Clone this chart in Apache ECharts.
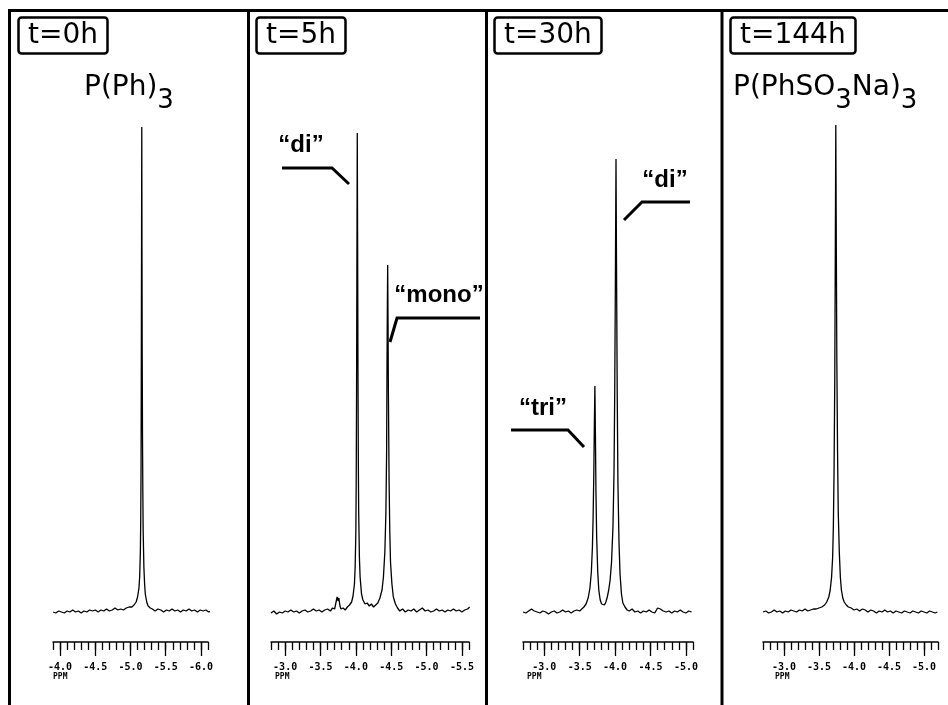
<!DOCTYPE html>
<html>
<head>
<meta charset="utf-8">
<script src="https://cdn.jsdelivr.net/npm/echarts@6/dist/echarts.min.js"></script>
<style>
  html, body { margin: 0; padding: 0; background: #fff; }
  #main { width: 948px; height: 705px; }
</style>
</head>
<body>
<div id="main"></div>
<script>
// 31P spectra, [ppm, intensity] (baseline = 0)
const spec0h = [
  [-3.90,0],[-3.94,-1],[-3.98,1],[-4.02,0],[-4.06,-1],[-4.10,1],[-4.14,0],[-4.18,2],[-4.22,0],[-4.26,1],
  [-4.30,-1],[-4.34,1],[-4.38,0],[-4.42,2],[-4.46,1],[-4.50,2],[-4.54,0],[-4.58,2],[-4.62,1],[-4.66,3],
  [-4.70,1],[-4.74,2],[-4.78,4],[-4.82,2],[-4.86,3],[-4.90,2],[-4.94,4],[-4.98,5],[-5.02,5],[-5.05,7],
  [-5.08,10],[-5.10,15],[-5.12,24],[-5.13,35],[-5.14,60],[-5.145,90],[-5.15,150],[-5.153,230],[-5.156,340],
  [-5.16,485],[-5.163,360],[-5.166,260],[-5.17,180],[-5.175,120],[-5.18,80],[-5.19,45],[-5.20,28],
  [-5.21,18],[-5.23,10],[-5.25,6],[-5.28,4],[-5.31,3],[-5.35,1],[-5.39,3],[-5.43,2],[-5.47,0],[-5.51,2],
  [-5.55,1],[-5.59,3],[-5.63,1],[-5.67,2],[-5.71,0],[-5.75,2],[-5.79,1],[-5.83,3],[-5.87,1],[-5.91,2],
  [-5.95,0],[-5.99,2],[-6.03,1],[-6.07,2],[-6.11,0],[-6.15,1],[-6.19,1]
];
const spec5h = [
  [-2.80,-1],[-2.84,1],[-2.88,-2],[-2.92,0],[-2.96,-1],[-3.00,1],[-3.04,0],[-3.08,2],[-3.12,0],[-3.16,1],
  [-3.20,-1],[-3.24,1],[-3.28,2],[-3.32,0],[-3.36,1],[-3.40,3],[-3.44,1],[-3.48,2],[-3.52,0],[-3.56,2],
  [-3.60,3],[-3.64,1],[-3.67,4],[-3.70,3],[-3.72,10],[-3.735,15],[-3.75,11],[-3.76,14],[-3.775,6],
  [-3.79,3],[-3.82,4],[-3.85,2],[-3.88,5],[-3.91,7],[-3.94,10],[-3.96,16],[-3.98,28],[-3.99,45],
  [-4.00,80],[-4.005,130],[-4.01,220],[-4.015,350],[-4.02,479],[-4.025,370],[-4.03,240],[-4.035,150],
  [-4.04,100],[-4.05,55],[-4.06,35],[-4.08,18],[-4.10,12],[-4.13,8],[-4.16,9],[-4.19,6],[-4.22,8],
  [-4.25,5],[-4.28,7],[-4.31,9],[-4.34,14],[-4.37,22],[-4.39,35],[-4.41,60],[-4.425,100],[-4.435,160],
  [-4.44,240],[-4.445,300],[-4.45,347],[-4.455,290],[-4.46,220],[-4.47,130],[-4.48,80],[-4.49,50],
  [-4.51,28],[-4.53,15],[-4.56,8],[-4.59,4],[-4.62,1],[-4.66,3],[-4.70,0],[-4.74,2],[-4.78,1],[-4.82,3],
  [-4.86,0],[-4.90,2],[-4.94,4],[-4.98,1],[-5.02,2],[-5.06,0],[-5.10,1],[-5.14,3],[-5.18,1],[-5.22,2],
  [-5.26,0],[-5.30,2],[-5.34,1],[-5.38,3],[-5.42,1],[-5.46,2],[-5.50,0],[-5.54,2],[-5.58,3],[-5.61,5]
];
const spec30h = [
  [-2.70,0],[-2.74,-1],[-2.78,1],[-2.82,3],[-2.86,1],[-2.90,0],[-2.94,-1],[-2.98,1],[-3.02,0],[-3.06,-2],
  [-3.10,0],[-3.14,1],[-3.18,-1],[-3.22,0],[-3.26,2],[-3.30,0],[-3.34,1],[-3.38,-1],[-3.42,1],[-3.46,2],
  [-3.50,1],[-3.53,3],[-3.56,5],[-3.59,8],[-3.62,14],[-3.645,24],[-3.665,40],[-3.68,65],[-3.69,95],
  [-3.70,140],[-3.707,185],[-3.715,226],[-3.722,180],[-3.73,120],[-3.74,75],[-3.755,40],[-3.77,22],
  [-3.79,12],[-3.81,8],[-3.83,6],[-3.85,7],[-3.87,10],[-3.89,15],[-3.91,22],[-3.93,32],[-3.95,50],
  [-3.97,85],[-3.985,140],[-3.995,220],[-4.005,340],[-4.013,453],[-4.02,350],[-4.03,220],[-4.04,130],
  [-4.055,70],[-4.07,38],[-4.09,18],[-4.11,9],[-4.14,5],[-4.17,2],[-4.20,1],[-4.24,3],[-4.28,0],[-4.32,1],
  [-4.36,-1],[-4.40,1],[-4.44,0],[-4.48,2],[-4.52,0],[-4.56,-1],[-4.60,4],[-4.64,3],[-4.68,1],[-4.72,0],
  [-4.76,1],[-4.80,-1],[-4.84,1],[-4.88,0],[-4.92,2],[-4.96,0],[-5.00,-1],[-5.04,1],[-5.08,0]
];
const spec144h = [
  [-2.70,0],[-2.74,1],[-2.78,-1],[-2.82,0],[-2.86,2],[-2.90,0],[-2.94,1],[-2.98,-1],[-3.02,1],[-3.06,0],
  [-3.10,2],[-3.14,1],[-3.18,0],[-3.22,2],[-3.26,1],[-3.30,3],[-3.34,1],[-3.38,2],[-3.42,3],[-3.46,3],
  [-3.50,4],[-3.54,5],[-3.58,7],[-3.61,10],[-3.64,15],[-3.66,22],[-3.68,35],[-3.695,55],[-3.705,85],
  [-3.715,140],[-3.725,230],[-3.733,360],[-3.74,487],[-3.747,370],[-3.755,250],[-3.765,160],[-3.775,100],
  [-3.79,60],[-3.805,35],[-3.82,22],[-3.84,14],[-3.86,10],[-3.89,7],[-3.92,5],[-3.96,4],[-4.00,2],
  [-4.04,3],[-4.08,1],[-4.12,3],[-4.16,2],[-4.20,0],[-4.24,2],[-4.28,1],[-4.32,-1],[-4.36,1],[-4.40,0],
  [-4.44,2],[-4.48,0],[-4.52,1],[-4.56,-1],[-4.60,1],[-4.64,0],[-4.68,-1],[-4.72,1],[-4.76,0],[-4.80,-1],
  [-4.84,1],[-4.88,0],[-4.92,-1],[-4.96,1],[-5.00,0],[-5.04,-1],[-5.08,1],[-5.12,0],[-5.16,-1],[-5.19,0]
];

// labelled ticks of each ppm ruler
const labels0h = [-4.0, -4.5, -5.0, -5.5, -6.0];
const labels5h = [-3.0, -3.5, -4.0, -4.5, -5.0, -5.5];
const labels30h = [-3.0, -3.5, -4.0, -4.5, -5.0];
const labels144h = [-3.0, -3.5, -4.0, -4.5, -5.0];

// peak annotations in data space: text anchor and leader line
const notes5h = [
  { text: '“di”', at: [-3.224, 467], path: [[-2.956, 444], [-3.663, 444], [-3.903, 428]] },
  { text: '“mono”', at: [-5.176, 317], path: [[-5.756, 294], [-4.582, 294], [-4.483, 270]] }
];
const notes30h = [
  { text: '“di”', at: [-4.705, 432], path: [[-5.058, 410], [-4.380, 410], [-4.126, 392]] },
  { text: '“tri”', at: [-2.982, 204], path: [[-2.531, 182], [-3.335, 182], [-3.561, 165]] }
];

function minorTicks(from, to) {
  const out = [];
  for (let k = Math.round(from * 10); k >= Math.round(to * 10); k--) out.push(k / 10);
  return out;
}

const panels = [
  { data: spec0h, labels: labels0h, notes: [], min: -6.1, max: -3.9, left: 53, width: 155 },
  { data: spec5h, labels: labels5h, notes: notes5h, min: -5.6, max: -2.8, left: 271, width: 198 },
  { data: spec30h, labels: labels30h, notes: notes30h, min: -5.1, max: -2.7, left: 523, width: 170 },
  { data: spec144h, labels: labels144h, notes: [], min: -5.2, max: -2.7, left: 763, width: 175 }
];

const tickFont = { color: '#000', fontSize: 10, fontWeight: 'bold', fontFamily: 'DejaVu Sans Mono' };

const grid = [], xAxis = [], yAxis = [], series = [];
panels.forEach(function (p, i) {
  grid.push({ left: p.left, width: p.width, top: 100, height: 515 });
  yAxis.push({ gridIndex: i, type: 'value', min: -3, max: 512, show: false });
  // ruler with 0.1 ppm ticks and labels
  xAxis.push({
    gridIndex: i, type: 'value', inverse: true, min: p.min, max: p.max,
    position: 'bottom', offset: 27,
    axisLine: { show: true, onZero: false, lineStyle: { color: '#000', width: 1.5 } },
    axisTick: { show: true, length: 8, lineStyle: { color: '#000', width: 1.3 },
      customValues: minorTicks(p.max, p.min) },
    axisLabel: Object.assign({ customValues: p.labels, margin: 20,
      formatter: function (v) { return v.toFixed(1); } }, tickFont),
    splitLine: { show: false }
  });
  // longer ticks at 0.5 ppm
  xAxis.push({
    gridIndex: i, type: 'value', inverse: true, min: p.min, max: p.max,
    position: 'bottom', offset: 27,
    axisLine: { show: false, onZero: false },
    axisTick: { show: true, length: 14, lineStyle: { color: '#000', width: 1.3 },
      customValues: p.labels },
    axisLabel: { show: false },
    splitLine: { show: false }
  });
  series.push({
    type: 'line', xAxisIndex: i * 2, yAxisIndex: i, data: p.data,
    showSymbol: false, symbol: 'none', clip: false, silent: true,
    lineStyle: { color: '#000', width: 1.3 }
  });
});

const boxTitle = function (text, left) {
  return {
    text: text, left: left, top: 17,
    borderColor: '#000', borderWidth: 2.5, borderRadius: 3, padding: [4, 10, 3, 10],
    textStyle: { color: '#000', fontSize: 28, fontWeight: 'normal', fontFamily: 'DejaVu Sans', lineHeight: 30 }
  };
};
const formulaRich = {
  a: { color: '#000', fontSize: 28, fontWeight: 'normal', fontFamily: 'DejaVu Sans', lineHeight: 30, verticalAlign: 'top' },
  b: { color: '#000', fontSize: 26, fontWeight: 'normal', fontFamily: 'DejaVu Sans', lineHeight: 54 }
};
const ppmTitle = function (left) {
  return { text: 'PPM', left: left, top: 673, padding: 0,
    textStyle: { color: '#000', fontSize: 8, fontWeight: 'bold', fontFamily: 'DejaVu Sans Mono' } };
};

const frame = [
  { type: 'line', shape: { x1: 8, y1: 10.5, x2: 948, y2: 10.5 }, style: { stroke: '#000', lineWidth: 3 } },
  { type: 'line', shape: { x1: 9.5, y1: 9, x2: 9.5, y2: 705 }, style: { stroke: '#000', lineWidth: 3 } },
  { type: 'line', shape: { x1: 248.5, y1: 9, x2: 248.5, y2: 705 }, style: { stroke: '#000', lineWidth: 3 } },
  { type: 'line', shape: { x1: 486.5, y1: 9, x2: 486.5, y2: 705 }, style: { stroke: '#000', lineWidth: 3 } },
  { type: 'line', shape: { x1: 722, y1: 9, x2: 722, y2: 705 }, style: { stroke: '#000', lineWidth: 3 } }
];

const option = {
  animation: false,
  backgroundColor: '#fff',
  title: [
    boxTitle('t=0h', 18), boxTitle('t=5h', 256), boxTitle('t=30h', 494), boxTitle('t=144h', 730),
    { text: '{a|P(Ph)}{b|3}', left: 84, top: 74, padding: 0, textStyle: { rich: formulaRich } },
    { text: '{a|P(PhSO}{b|3}{a|Na)}{b|3}', left: 733, top: 74, padding: 0, textStyle: { rich: formulaRich } },
    ppmTitle(53), ppmTitle(275), ppmTitle(527), ppmTitle(775)
  ],
  grid: grid,
  xAxis: xAxis,
  yAxis: yAxis,
  series: series,
  graphic: frame
};

const chart = echarts.init(document.getElementById('main'));
chart.setOption(option);

// leader lines and labels placed through the panels' own scales
const notesGraphic = [];
panels.forEach(function (p, i) {
  const toPx = function (pt) { return chart.convertToPixel({ xAxisIndex: i * 2, yAxisIndex: i }, pt); };
  p.notes.forEach(function (n) {
    notesGraphic.push({ type: 'polyline', silent: true, shape: { points: n.path.map(toPx) },
      style: { stroke: '#000', lineWidth: 3, fill: null } });
    const c = toPx(n.at);
    notesGraphic.push({ type: 'text', silent: true, x: c[0], y: c[1],
      style: { text: n.text, fill: '#000', fontSize: 24, fontWeight: 'bold', fontFamily: 'Liberation Sans',
        align: 'center', verticalAlign: 'middle' } });
  });
});
chart.setOption({ graphic: frame.concat(notesGraphic) });
window.addEventListener('resize', function () { chart.resize(); });
</script>
</body>
</html>
